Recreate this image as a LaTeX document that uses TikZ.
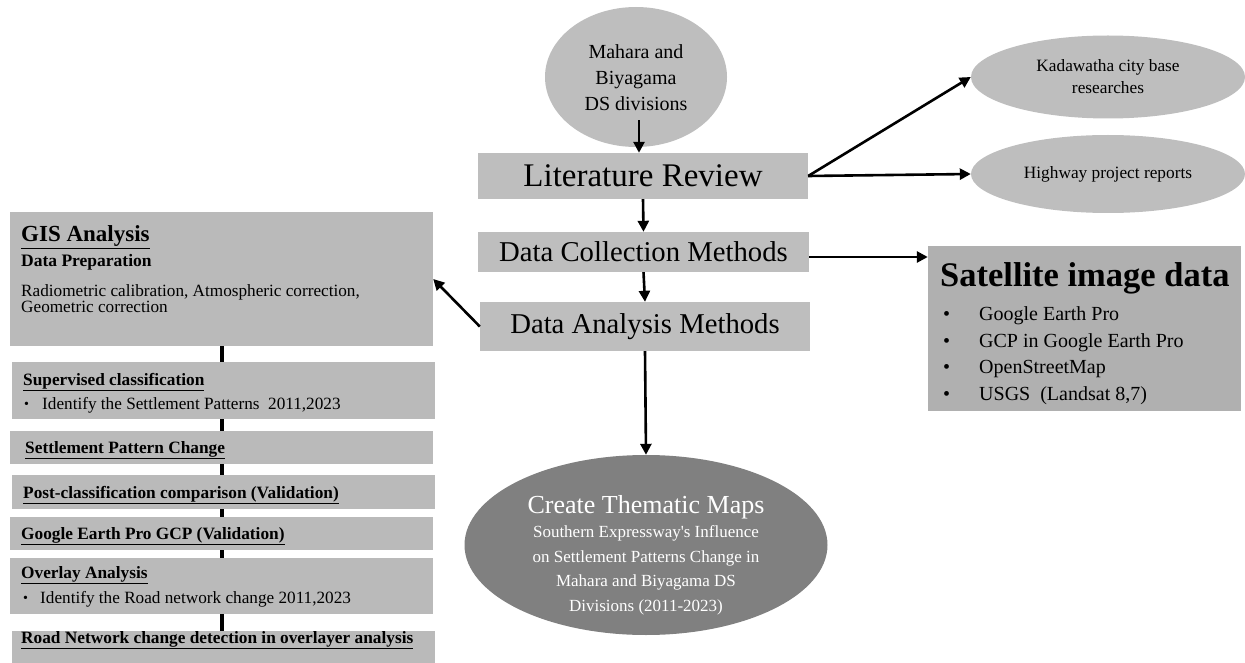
\documentclass[tikz,border=0pt]{standalone}
\usepackage{fontspec}
\setmainfont{Liberation Serif}
\usetikzlibrary{arrows.meta,shapes.geometric,calc}
\definecolor{boxgray}{RGB}{190,190,190}
\definecolor{gisgray}{RGB}{186,186,186}
\definecolor{satgray}{RGB}{176,176,176}
\definecolor{elgray}{RGB}{190,190,190}
\definecolor{darkel}{RGB}{128,128,128}
\newcommand{\fs}[2]{\fontsize{#1}{#2}\selectfont}
\begin{document}
\begin{tikzpicture}[x=1pt,y=-1pt,
  box/.style={rectangle,fill=boxgray,draw=none,inner sep=0pt},
  gbox/.style={rectangle,fill=gisgray,draw=none,inner sep=0pt,minimum width=423pt},
  oval/.style={ellipse,fill=elgray,draw=none,inner sep=0pt,align=center},
  arr/.style={line width=2.6pt,-{Triangle[length=11pt,width=11pt]}},
  link/.style={line width=4pt},
  lt/.style={anchor=base west,inner sep=0pt},
  sub/.style={lt,font=\bfseries\fs{17.3}{20}},
  body/.style={lt,font=\fs{17.2}{20}}]
\useasboundingbox (0,0) rectangle (1245,663);
% centre column
\node[oval,minimum width=182pt,minimum height=140pt] (top) at (636,77) {};
\node[align=center,inner sep=0pt,font=\fs{20}{26}] (toptxt) at (636,78) {Mahara and\\Biyagama\\DS divisions};
\node[box,minimum width=330pt,minimum height=46pt,font=\fs{33}{36}] (lit) at (643,176) {Literature Review};
\node[box,minimum width=331pt,minimum height=40pt,font=\fs{28.7}{32}] (coll) at (643.5,252) {Data Collection Methods};
\node[box,minimum width=330pt,minimum height=49pt,font=\fs{28.7}{32}] (ana) at (645,326.5) {Data Analysis Methods};
\node[ellipse,fill=darkel,draw=none,inner sep=0pt,minimum width=363pt,minimum height=180pt] (create) at (646,545) {};
\node[align=center,text=white,inner sep=0pt,font=\fs{17}{24.5}] (createtxt) at (646,555)
  {{\fs{26}{28}Create Thematic Maps}\\Southern Expressway\textquotesingle s Influence\\on Settlement Patterns Change in\\Mahara and Biyagama DS\\Divisions (2011-2023)};
% right side
\node[oval,minimum width=274pt,minimum height=83pt,font=\fs{17.3}{22}] (kad) at (1108,77) {Kadawatha city base\\researches};
\node[oval,minimum width=274pt,minimum height=78pt,font=\fs{17.3}{22}] (hwy) at (1108,174) {Highway project reports};
\node[rectangle,fill=satgray,draw=none,inner sep=0pt,minimum width=313pt,minimum height=165pt] (sat) at (1084.5,328.5) {};
\node[lt,font=\bfseries\fs{34.5}{40}] (sattitle) at (940,287) {Satellite image data};
\foreach \y/\t [count=\i] in {320/Google Earth Pro,347/GCP in Google Earth Pro,373/OpenStreetMap,400/USGS\ \ (Landsat 8{,}7)}{
  \node[lt,font=\fs{20}{24}] (satb\i) at (943,\y) {\textbullet};
  \node[lt,font=\fs{20}{24}] (satt\i) at (979,\y) {\t};
}
% left column
\node[gbox,minimum height=134pt] (gis) at (221.5,279) {};
\node[gbox,minimum height=57pt] (sup) at (223.5,390.5) {};
\node[gbox,minimum height=33pt] (spc) at (221.5,447.5) {};
\node[gbox,minimum height=34pt] (post) at (223.5,492) {};
\node[gbox,minimum height=33pt] (gep) at (221.5,533.5) {};
\node[gbox,minimum height=56pt] (ovl) at (221.5,586) {};
\node[gbox,minimum height=40pt] (road) at (223.5,651) {};
\node[lt,font=\bfseries\fs{23}{26}] (gist) at (21,242) {\underline{GIS Analysis}};
\node[lt,font=\bfseries\fs{17.5}{20}] (dprep) at (21,266) {Data Preparation};
\node[body] (rad1) at (21,296) {Radiometric calibration, Atmospheric correction,};
\node[body] (rad2) at (21,312) {Geometric correction};
\node[sub] (supt) at (23,385) {\underline{Supervised classification}};
\node[body,font=\fs{14}{16}] (supb) at (24,408) {\textbullet};
\node[body] (supx) at (42,409) {Identify the Settlement Patterns\ \ 2011,2023};
\node[sub] (spct) at (25,453) {\underline{Settlement Pattern Change}};
\node[sub] (postt) at (23,498) {\underline{Post-classification comparison (Validation)}};
\node[sub] (gept) at (21,539) {\underline{Google Earth Pro GCP (Validation)}};
\node[sub] (ovlt) at (21,578) {\underline{Overlay Analysis}};
\node[body,font=\fs{14}{16}] (ovlb) at (23,602) {\textbullet};
\node[body] (ovlx) at (40,603) {Identify the Road network change 2011,2023};
\node[sub] (roadt) at (21,643) {\underline{Road Network change detection in overlayer analysis}};
% connectors
\coordinate (topout) at ($(top.south)+(3,-27)$);
\draw[arr] (topout) -- (topout |- lit.north);
\draw[arr] (lit.south) -- (coll.north);
\draw[arr] (coll.south) -- (ana.north);
\draw[arr] (ana.south) -- (create.north);
\draw[arr] (lit.east) -- (kad.west);
\draw[arr] (lit.east) -- (hwy.west);
\draw[arr] ([yshift=-5pt]coll.east) -- ([yshift=-5pt]coll.east -| sat.west);
\draw[arr] (ana.west) -- (gis.east);
\draw[link] (gis.south) -- (gis.south |- sup.north);
\draw[link] (gis.south |- sup.south) -- (gis.south |- spc.north);
\draw[link] (gis.south |- spc.south) -- (gis.south |- post.north);
\draw[link] (gis.south |- post.south) -- (gis.south |- gep.north);
\draw[link] (gis.south |- gep.south) -- (gis.south |- ovl.north);
\draw[link] (gis.south |- ovl.south) -- (gis.south |- road.north);
\end{tikzpicture}
\end{document}
